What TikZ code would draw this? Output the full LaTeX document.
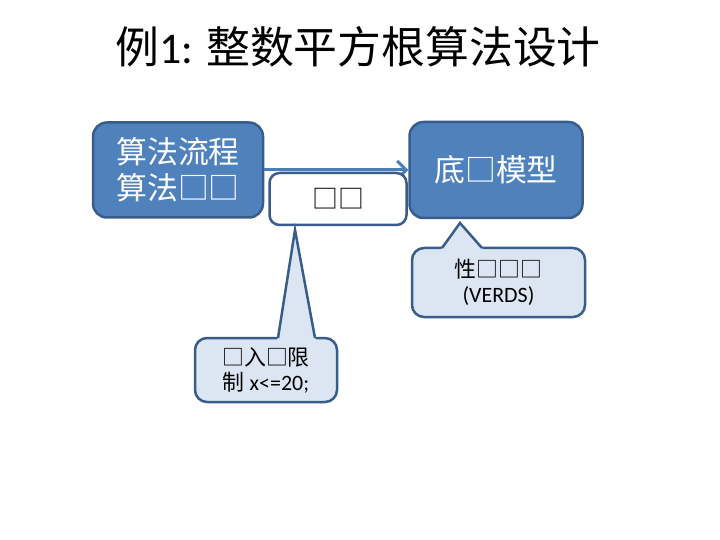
\documentclass[tikz,border=0pt]{standalone}
\usepackage{fontspec}
\setmainfont{Carlito}
\newfontfamily\cjkf{Noto Sans CJK SC}
\usetikzlibrary{arrows.meta}
\definecolor{boxblue}{HTML}{4F81BD}
\definecolor{boxline}{HTML}{385D8A}
\definecolor{callfill}{HTML}{DCE6F2}
\definecolor{arrowblue}{HTML}{4A7EBB}
\begin{document}
\begin{tikzpicture}[x=1bp,y=-1bp,
  bluebox/.style={draw=boxline, fill=boxblue, line width=2.5bp, rounded corners=14bp, text=white, inner sep=0pt, align=center, font=\cjkf\fontsize{31}{36}\selectfont},
  whitebox/.style={draw=boxline, fill=white, line width=2.5bp, rounded corners=10bp, inner sep=0pt, font=\cjkf\fontsize{26}{30}\selectfont},
  callbox/.style={draw=boxline, fill=callfill, line width=2.5bp, rounded corners=12bp, inner sep=0pt, align=center, font=\fontsize{22}{25}\selectfont},
  pointerline/.style={draw=boxline, line width=2.5bp, line join=miter},
  flowarrow/.style={draw=arrowblue, line width=3bp, -{Straight Barb[length=9bp,width=18bp]}}
]
\useasboundingbox[fill=white] (0,0) rectangle (720,540);

\node[font=\fontsize{44}{50}\selectfont] (title) at (358,47) {{\cjkf 例}1: {\cjkf 整数平方根算法设计}};

\node[bluebox, minimum width=170bp, minimum height=95bp] (flow) at (178,170) {算法流程\\算法□□};
\node[bluebox, minimum width=173bp, minimum height=96bp] (model) at (496,170) {底□模型};

\draw[flowarrow] (flow.east) -- (model.west);

\node[whitebox, minimum width=137bp, minimum height=52bp] (mid) at (338,199) {□□};

% right callout
\node[callbox, minimum width=173bp, minimum height=69bp] (noteR) at (498.5,282.5) {{\cjkf 性□□□}\\(VERDS)};
\coordinate (tipR) at (460,223);
\fill[callfill] (442,248) -- (tipR) -- (482,248) -- (484,251) -- (440,251) -- cycle;
\draw[pointerline] (442,248) -- (tipR) -- (482,248);

% left callout
\node[callbox, minimum width=142bp, minimum height=64bp] (noteL) at (266,370) {{\cjkf □入□限}\\{\cjkf 制} x<=20;};
\coordinate (tipL) at (295,230);
\fill[callfill] (278,338) -- (tipL) -- (315,338) -- (317,341) -- (276,341) -- cycle;
\draw[pointerline] (278,338) -- (tipL) -- (315,338);
\end{tikzpicture}
\end{document}
